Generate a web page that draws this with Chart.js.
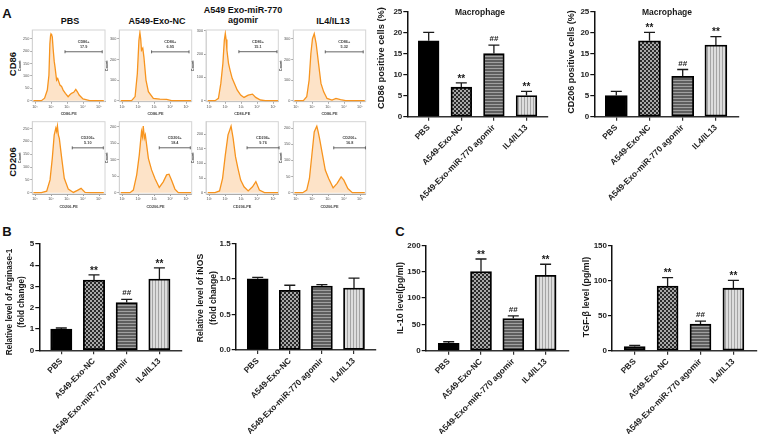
<!DOCTYPE html>
<html>
<head>
<meta charset="utf-8">
<title>Macrophage polarization</title>
<script src="https://cdn.jsdelivr.net/npm/chart.js@4/dist/chart.umd.min.js"></script>
<style>
html, body { margin: 0; padding: 0; background: #fff; }
#page { position: relative; width: 758px; height: 434px; overflow: hidden; font-family: "Liberation Sans", Arial, sans-serif; color: #111; }
#page canvas { position: absolute; left: 0; top: 0; }
.txt { position: absolute; font-weight: bold; font-size: 9px; line-height: 10px; white-space: nowrap; transform: translate(-50%, -50%); text-align: center; }
.letter { font-size: 13px; line-height: 13px; }
.side { font-size: 9.5px; transform: translate(-50%, -50%) rotate(-90deg); }
</style>
</head>
<body>
<div id="page">
    <div class="txt letter" style="left:7px;top:13px">A</div>
    <div class="txt letter" style="left:7px;top:231px">B</div>
    <div class="txt letter" style="left:400px;top:231px">C</div>
    <div class="txt" style="left:70px;top:21px">PBS</div>
    <div class="txt" style="left:157px;top:21px">A549-Exo-NC</div>
    <div class="txt" style="left:243px;top:15px">A549 Exo-miR-770<br>agomir</div>
    <div class="txt" style="left:333px;top:21px">IL4/IL13</div>
    <div class="txt side" style="left:13px;top:64px">CD86</div>
    <div class="txt side" style="left:13px;top:162px">CD206</div>
</div>
<script>
// bar panels
const groups = ['PBS', 'A549-Exo-NC', 'A549-Exo-miR-770 agomir', 'IL4/IL13'];
const marks = ['', '**', '##', '**'];
const noMarks = ['', '', '', ''];

const cd86Values = [18, 7, 15, 5];
const cd86Tops = [20, 8, 17, 6];
const cd206Values = [5, 18, 9.6, 17];
const cd206Tops = [6, 20, 11.2, 19];
const argValues = [1, 3.3, 2.25, 3.35];
const argTops = [1.05, 3.55, 2.4, 3.88];
const inosValues = [1, 0.84, 0.9, 0.87];
const inosTops = [1.02, 0.91, 0.92, 1.01];
const il10Values = [14, 150, 61, 143];
const il10Tops = [17, 174, 66, 164];
const tgfValues = [6, 92, 38, 89];
const tgfTops = [7.5, 104, 42, 100];

// flow histograms: log10 of intensity, then count
const p1Log = [0.9, 1.4, 1.6, 1.77, 1.87, 1.93, 1.97, 2, 2.04, 2.08, 2.14, 2.2, 2.25, 2.35, 2.42, 2.56, 2.66, 2.76, 2.9, 3.07, 3.18, 3.28, 3.42, 3.55, 3.65, 3.76, 4, 4.42, 5.3];
const p1Count = [0, 0, 10, 43, 103, 230, 262, 270, 266, 258, 205, 160, 137, 83, 90, 63, 58, 43, 30, 16, 24, 30, 34, 46, 36, 23, 7, 0, 0];
const p2Log = [0.9, 1.58, 1.8, 1.94, 2.04, 2.1, 2.15, 2.2, 2.28, 2.35, 2.48, 2.63, 2.94, 3.35, 3.77, 4.08, 5.3];
const p2Count = [0, 0, 20, 132, 293, 330, 300, 245, 255, 213, 100, 44, 11, 8, 6, 0, 0];
const p3Log = [0.9, 1.36, 1.57, 1.72, 1.85, 1.94, 2, 2.05, 2.1, 2.2, 2.3, 2.43, 2.57, 2.74, 2.96, 3.17, 3.43, 3.7, 3.9, 4.2, 4.5, 5.3];
const p3Count = [0, 0, 10, 74, 160, 260, 288, 262, 217, 160, 130, 96, 74, 46, 24, 14, 24, 28, 14, 3, 0, 0];
const p4Log = [0.9, 1.46, 1.67, 1.82, 1.93, 2.03, 2.14, 2.26, 2.41, 2.56, 2.73, 2.94, 3.25, 3.5, 3.78, 4.1, 5.3];
const p4Count = [0, 0, 19, 100, 229, 301, 325, 277, 180, 84, 43, 11, 3, 11, 5, 0, 0];
const p5Log = [0.9, 1.4, 1.73, 1.94, 2.08, 2.2, 2.3, 2.35, 2.4, 2.46, 2.52, 2.67, 2.83, 3.08, 3.4, 3.65, 3.88, 4.13, 4.45, 5.3];
const p5Count = [0, 0, 6, 50, 134, 225, 252, 240, 260, 225, 212, 134, 56, 14, 1, 9, 17, 1, 0, 0];
const p6Log = [0.9, 1.48, 1.69, 1.9, 2.06, 2.2, 2.26, 2.31, 2.38, 2.44, 2.63, 2.83, 3.04, 3.31, 3.56, 3.77, 3.92, 4.08, 4.29, 4.5, 5.3];
const p6Count = [0, 0, 8, 54, 114, 185, 170, 202, 165, 175, 104, 69, 43, 16, 33, 54, 56, 38, 11, 0, 0];
const p7Log = [0.9, 1.36, 1.64, 1.83, 2, 2.17, 2.28, 2.36, 2.49, 2.64, 2.79, 2.96, 3.17, 3.43, 3.7, 3.91, 4.13, 4.45, 5.3];
const p7Count = [0, 0, 6, 49, 128, 197, 214, 227, 185, 122, 83, 43, 20, 6, 20, 38, 9, 0, 0];
const p8Log = [0.9, 1.42, 1.67, 1.84, 1.99, 2.14, 2.24, 2.3, 2.38, 2.47, 2.64, 2.83, 3.04, 3.32, 3.57, 3.82, 3.99, 4.24, 4.52, 5.3];
const p8Count = [0, 0, 8, 44, 116, 188, 200, 206, 190, 168, 122, 70, 44, 15, 29, 49, 39, 13, 0, 0];

const logTicks = [1, 2, 3, 4, 5];
const logLabels = ['10\u00B9', '10\u00B2', '10\u00B3', '10\u2074', '10\u2075'];
const ticks250 = [0, 50, 100, 150, 200, 250];
const ticks300 = [0, 100, 200, 300];
const ticks200 = [0, 50, 100, 150, 200];

const PAGE_W = 758, PAGE_H = 434;
const page = document.getElementById('page');
Chart.defaults.font.family = '"Liberation Sans", Arial, sans-serif';
Chart.defaults.animation = false;
Chart.defaults.responsive = false;

function makePattern(w, h, draw) {
    const c = document.createElement('canvas');
    c.width = w;
    c.height = h;
    draw(c.getContext('2d'));
    return c.getContext('2d').createPattern(c, 'repeat');
}

const checker = makePattern(4, 4, function (g) {
    g.fillStyle = '#a8a8a8'; g.fillRect(0, 0, 4, 4);
    g.fillStyle = '#2a2a2a'; g.fillRect(0, 0, 2, 2); g.fillRect(2, 2, 2, 2);
});
const hStripes = makePattern(1, 3, function (g) {
    g.fillStyle = '#5e5e5e'; g.fillRect(0, 0, 1, 3);
    g.fillStyle = '#a0a0a0'; g.fillRect(0, 2, 1, 1);
});
const vStripes = makePattern(3, 1, function (g) {
    g.fillStyle = '#dddddd'; g.fillRect(0, 0, 3, 1);
    g.fillStyle = '#a4a4a4'; g.fillRect(2, 0, 1, 1);
});
const barFills = ['#000000', checker, hStripes, vStripes];

// error bars, significance marks, and titles placed where the figure has them
const barNotes = {
    id: 'barNotes',
    afterDatasetsDraw(chart, args, opts) {
        const g = chart.ctx, xs = chart.scales.x, ys = chart.scales.y;
        g.save();
        g.strokeStyle = '#1a1a1a';
        g.fillStyle = '#1a1a1a';
        g.lineWidth = 1.3;
        opts.tops.forEach(function (top, i) {
            const x = xs.getPixelForValue(i);
            const y0 = ys.getPixelForValue(opts.values[i]);
            const y1 = ys.getPixelForValue(top);
            g.beginPath();
            g.moveTo(x, y0);
            g.lineTo(x, y1);
            g.moveTo(x - 5.5, y1);
            g.lineTo(x + 5.5, y1);
            g.stroke();
            const m = opts.marks[i];
            if (m) {
                g.textAlign = 'center';
                g.textBaseline = 'middle';
                g.font = m === '**' ? 'bold 10px "Liberation Sans"' : 'bold 8px "Liberation Sans"';
                g.fillText(m, x, y1 + (m === '**' ? -4 : -6));
            }
        });
        g.textAlign = 'center';
        g.textBaseline = 'middle';
        if (opts.title) {
            g.font = 'bold 8.5px "Liberation Sans"';
            g.fillText(opts.title, opts.titleX, 13);
        }
        g.font = 'bold ' + opts.yTitleSize + 'px "Liberation Sans"';
        opts.yTitle.forEach(function (line, i) {
            g.save();
            g.translate(opts.yTitleX + i * 12.5, opts.yTitleY);
            g.rotate(-Math.PI / 2);
            g.fillText(line, 0, 0);
            g.restore();
        });
        g.restore();
    }
};

function barPanel(p) {
    const canvas = document.createElement('canvas');
    canvas.width = PAGE_W;
    canvas.height = PAGE_H;
    page.appendChild(canvas);
    const xHeight = 84, yWidth = 30;
    new Chart(canvas, {
        type: 'bar',
        plugins: [barNotes],
        data: {
            datasets: [{
                data: p.values.map(function (v, i) { return { x: i, y: v }; }),
                backgroundColor: barFills,
                borderColor: '#000',
                borderWidth: 1.8,
                borderSkipped: false,
                barThickness: p.barWidth
            }]
        },
        options: {
            width: PAGE_W,
            height: PAGE_H,
            layout: { padding: { left: p.left - yWidth, right: PAGE_W - p.right, top: p.top, bottom: PAGE_H - p.bottom - xHeight } },
            plugins: {
                legend: { display: false },
                tooltip: { enabled: false },
                barNotes: { values: p.values, tops: p.tops, marks: p.marks, title: p.title, titleX: p.titleX, yTitle: p.yTitle, yTitleX: p.yTitleX, yTitleY: p.yTitleY, yTitleSize: p.yTitleSize }
            },
            scales: {
                x: {
                    type: 'linear',
                    offset: false,
                    min: (p.left - p.first) / p.step,
                    max: (p.right - p.first) / p.step,
                    afterBuildTicks(s) { s.ticks = groups.map(function (g, i) { return { value: i }; }); },
                    afterFit(s) { s.height = xHeight; s.paddingLeft = 0; s.paddingRight = 0; },
                    border: { color: '#333', width: 1.5 },
                    grid: { offset: false, drawOnChartArea: false, color: '#333', tickLength: 4, lineWidth: 1.2 },
                    ticks: {
                        autoSkip: false, minRotation: 45, maxRotation: 45, padding: 2,
                        color: '#222', font: { size: 8.4, weight: 'bold' },
                        callback(v) { return groups[v]; }
                    }
                },
                y: {
                    min: 0,
                    max: p.max,
                    afterFit(s) { s.width = yWidth; s.paddingTop = 0; s.paddingBottom = 0; },
                    border: { color: '#111', width: 1.5 },
                    grid: { drawOnChartArea: false, color: '#111', tickLength: 4, lineWidth: 1.2 },
                    ticks: {
                        stepSize: p.stepSize, padding: 1,
                        color: '#222', font: { size: 8, weight: 'bold' },
                        callback(v) { return p.digits ? v.toFixed(p.digits) : v; }
                    }
                }
            }
        }
    });
}

barPanel({ values: cd86Values, tops: cd86Tops, marks: marks, left: 407.3, right: 548, top: 11.3, bottom: 116.7, first: 428.7, step: 32.6, barWidth: 20.7, max: 25, stepSize: 5, title: 'Macrophage', titleX: 480, yTitle: ['CD86 positive cells (%)'], yTitleX: 381.5, yTitleY: 58, yTitleSize: 9.3 });
barPanel({ values: cd206Values, tops: cd206Tops, marks: marks, left: 594.3, right: 738.3, top: 11.3, bottom: 116.7, first: 616.3, step: 33.2, barWidth: 22, max: 25, stepSize: 5, title: 'Macrophage', titleX: 667, yTitle: ['CD206 positive cells (%)'], yTitleX: 572, yTitleY: 62, yTitleSize: 9 });
barPanel({ values: argValues, tops: argTops, marks: marks, left: 39.3, right: 181.7, top: 244, bottom: 350.3, first: 61.3, step: 32.7, barWidth: 21.3, max: 5, stepSize: 1, yTitle: ['Relative level of Arginase-1', '(fold change)'], yTitleX: 9.5, yTitleY: 302, yTitleSize: 8.2 });
barPanel({ values: inosValues, tops: inosTops, marks: noMarks, left: 235.7, right: 375.3, top: 243.3, bottom: 350, first: 257.7, step: 32.1, barWidth: 21, max: 1.5, stepSize: 0.5, digits: 1, yTitle: ['Relative level of iNOS', '(fold change)'], yTitleX: 201, yTitleY: 298, yTitleSize: 8.6 });
barPanel({ values: il10Values, tops: il10Tops, marks: marks, left: 425.7, right: 568.3, top: 245.3, bottom: 350.7, first: 448.7, step: 32.3, barWidth: 21, max: 200, stepSize: 50, yTitle: ['IL-10 level(pg/ml)'], yTitleX: 400.7, yTitleY: 298, yTitleSize: 8.8 });
barPanel({ values: tgfValues, tops: tgfTops, marks: marks, left: 612, right: 756.3, top: 245.3, bottom: 350.7, first: 634.7, step: 32.9, barWidth: 21, max: 150, stepSize: 50, yTitle: ['TGF-\u03B2 level (pg/ml)'], yTitleX: 587, yTitleY: 297, yTitleSize: 8.9 });

// light frame plus the gate bar with its label
const flowGate = {
    id: 'flowGate',
    beforeDatasetsDraw(chart) {
        const a = chart.chartArea, g = chart.ctx;
        g.save();
        g.strokeStyle = '#d4d4d4';
        g.lineWidth = 1;
        g.strokeRect(a.left, a.top, a.right - a.left, a.bottom - a.top);
        g.restore();
    },
    afterDatasetsDraw(chart, args, opts) {
        const g = chart.ctx, xs = chart.scales.x, ys = chart.scales.y;
        const x0 = xs.getPixelForValue(opts.from), x1 = xs.getPixelForValue(opts.to);
        const y = ys.getPixelForValue(opts.level);
        g.save();
        g.strokeStyle = '#555';
        g.lineWidth = 0.9;
        g.beginPath();
        g.moveTo(x0, y); g.lineTo(x1, y);
        g.moveTo(x0, y - 1.5); g.lineTo(x0, y + 1.5);
        g.moveTo(x1, y - 1.5); g.lineTo(x1, y + 1.5);
        g.stroke();
        g.fillStyle = '#444';
        g.textAlign = 'center';
        g.textBaseline = 'middle';
        g.font = 'bold 3.8px "Liberation Sans"';
        g.fillText(opts.name, (x0 + x1) / 2, y - 10);
        g.fillText(opts.percent, (x0 + x1) / 2, y - 5);
        g.restore();
    }
};

function flowPanel(p) {
    const canvas = document.createElement('canvas');
    canvas.width = PAGE_W;
    canvas.height = PAGE_H;
    page.appendChild(canvas);
    const xHeight = 15, yWidth = 15;
    const pxPerLog = 16;
    const logMin = 1 - (p.tickOne - p.left) / pxPerLog;
    const logMax = logMin + (p.right - p.left) / pxPerLog;
    const zero = p.zero;
    const pxPerCount = (zero - p.top) / p.max;
    new Chart(canvas, {
        type: 'line',
        plugins: [flowGate],
        data: {
            datasets: [{
                data: p.logs.map(function (v, i) { return { x: v, y: p.counts[i] }; }),
                borderColor: '#f7941e',
                backgroundColor: '#fde3c8',
                borderWidth: 1.3,
                pointRadius: 0,
                tension: 0,
                fill: 'origin'
            }]
        },
        options: {
            width: PAGE_W,
            height: PAGE_H,
            layout: { padding: { left: p.left - yWidth, right: PAGE_W - p.right, top: p.top, bottom: PAGE_H - p.bottom - xHeight } },
            plugins: {
                legend: { display: false },
                tooltip: { enabled: false },
                flowGate: { from: p.gate[0], to: p.gate[1], level: p.level, name: p.name, percent: p.percent }
            },
            scales: {
                x: {
                    type: 'linear',
                    min: logMin,
                    max: logMax,
                    afterBuildTicks(s) { s.ticks = logTicks.map(function (v) { return { value: v }; }); },
                    afterFit(s) { s.height = xHeight; s.paddingLeft = 0; s.paddingRight = 0; },
                    border: { color: '#777', width: 0.9 },
                    grid: { drawOnChartArea: false, color: '#777', tickLength: 2, lineWidth: 0.7 },
                    title: { display: true, text: p.axis, color: '#444', font: { size: 3.8, weight: 'bold' }, padding: 0 },
                    ticks: {
                        autoSkip: false, maxRotation: 0, padding: 1,
                        color: '#555', font: { size: 3.8 },
                        callback(v) { return logLabels[logTicks.indexOf(v)]; }
                    }
                },
                y: {
                    min: -(p.bottom - zero) / pxPerCount,
                    max: p.max,
                    afterBuildTicks(s) { s.ticks = p.yTicks.map(function (v) { return { value: v }; }); },
                    afterFit(s) { s.width = yWidth; s.paddingTop = 0; s.paddingBottom = 0; },
                    border: { color: '#cfcfcf', width: 0.9 },
                    grid: { drawOnChartArea: false, color: '#777', tickLength: 2, lineWidth: 0.7 },
                    title: { display: true, text: 'Count', color: '#444', font: { size: 3.8, weight: 'bold' }, padding: 0 },
                    ticks: { padding: 1, color: '#555', font: { size: 3.8 }, callback(v) { return v; } }
                }
            }
        }
    });
}

const row1 = { top: 30, bottom: 101.7, zero: 100.7, axis: 'CD86-PE', name: 'CD86+' };
const row2 = { top: 121.7, bottom: 194, zero: 192.7, axis: 'CD206-PE', name: 'CD206+' };

flowPanel({ ...row1, left: 32.3, right: 105, tickOne: 35, logs: p1Log, counts: p1Count, max: 286, yTicks: ticks250, gate: [2.875, 5.2], level: 198, percent: '17.9' });
flowPanel({ ...row1, left: 119.3, right: 191.7, tickOne: 122.3, logs: p2Log, counts: p2Count, max: 343, yTicks: ticks300, gate: [2.83, 5.17], level: 237, percent: '6.95' });
flowPanel({ ...row1, left: 206, right: 278.3, tickOne: 209.3, logs: p3Log, counts: p3Count, max: 303, yTicks: ticks300, gate: [2.85, 5.23], level: 210, percent: '15.1' });
flowPanel({ ...row1, left: 293.3, right: 365.7, tickOne: 296, logs: p4Log, counts: p4Count, max: 343, yTicks: ticks300, gate: [2.83, 5.2], level: 237, percent: '5.32' });
flowPanel({ ...row2, left: 32.3, right: 105, tickOne: 35, logs: p5Log, counts: p5Count, max: 277, yTicks: ticks250, gate: [3.33, 5.27], level: 175, percent: '5.10' });
flowPanel({ ...row2, left: 119.3, right: 191.7, tickOne: 122.3, logs: p6Log, counts: p6Count, max: 215, yTicks: ticks200, gate: [3.31, 5.25], level: 136, percent: '18.4' });
flowPanel({ ...row2, left: 206, right: 278.3, tickOne: 209.3, logs: p7Log, counts: p7Count, max: 242, yTicks: ticks200, gate: [3.36, 5.36], level: 153, percent: '9.76' });
flowPanel({ ...row2, left: 293.3, right: 365.7, tickOne: 296, logs: p8Log, counts: p8Count, max: 220, yTicks: ticks200, gate: [3.36, 5.34], level: 139, percent: '16.8' });
</script>
</body>
</html>
